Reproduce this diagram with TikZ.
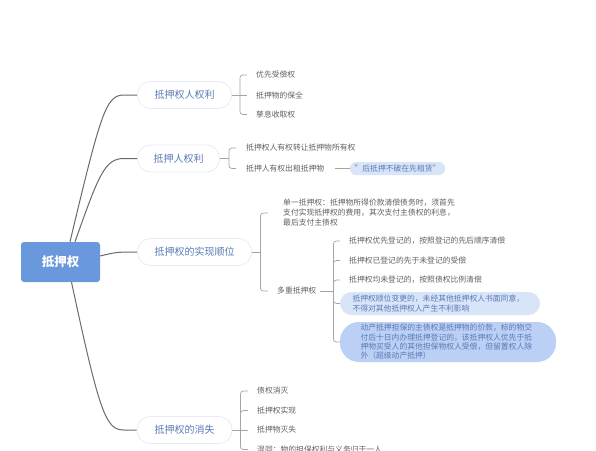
\documentclass[tikz,border=0pt]{standalone}
\usepackage{fontspec}
\setmainfont{Noto Sans CJK SC}
\usetikzlibrary{calc}
\definecolor{rootblue}{HTML}{6A98DC}
\definecolor{branchtxt}{HTML}{5A7AB5}
\definecolor{pillborder}{HTML}{E6ECF5}
\definecolor{leaftxt}{HTML}{606060}
\definecolor{mainline}{HTML}{6A6A6A}
\definecolor{brline}{HTML}{A5A5A5}
\definecolor{hlA}{HTML}{D8E4F8}
\definecolor{hlB}{HTML}{BBD0F4}
\tikzset{
  rootnode/.style={fill=rootblue, rounded corners=3pt, minimum width=79pt, minimum height=40pt,
    text=white, font=\fontsize{12.5}{14}\selectfont\bfseries},
  branchnode/.style={draw=pillborder, line width=0.8pt, fill=white, rounded corners=13pt,
    minimum height=27pt, inner xsep=0pt, text=branchtxt, font=\fontsize{10}{12}\selectfont},
  leafnode/.style={anchor=west, inner sep=0pt, text=leaftxt, font=\fontsize{7.8}{10}\selectfont, align=left},
  hlnode/.style={inner ysep=2pt, text=branchtxt, font=\fontsize{7.8}{9.3}\selectfont, align=left},
  mainc/.style={draw=mainline, line width=1pt},
  brc/.style={draw=brline, line width=0.7pt, rounded corners=3pt},
}
\begin{document}
\begin{tikzpicture}[x=1pt,y=-1pt]
\useasboundingbox (0,0) rectangle (596,450);
\clip (0,0) rectangle (596,450);
\fill[white] (0,0) rectangle (596,450);

% root and branches
\node[rootnode] (root) at (60.5,262) {抵押权};
\node[branchnode, minimum width=94pt] (b1) at (184.5,95) {抵押权人权利};
\node[branchnode, minimum width=82pt] (b2) at (178.5,158.5) {抵押人权利};
\node[branchnode, minimum width=114pt] (b3) at (194.5,252) {抵押权的实现顺位};
\node[branchnode, minimum width=95pt] (b4) at (184.5,430) {抵押权的消失};

\draw[mainc] ([xshift=9.5pt]root.north) .. controls (101,112) and (106,95) .. (124,95) -- (b1.west);
\draw[mainc] ([xshift=14.5pt]root.north) .. controls (99,174) and (105,158.5) .. (124,158.5) -- (b2.west);
\draw[mainc] ([yshift=6pt]root.east) .. controls (116,252) and (118,252) .. (b3.west);
\draw[mainc] ([xshift=11pt]root.south) .. controls (100,415) and (106,430) .. (124,430) -- (b4.west);

% branch 1
\node[leafnode] (l11) at (256,75) {优先受偿权};
\node[leafnode] (l12) at (256,95) {抵押物的保全};
\node[leafnode] (l13) at (256,114.5) {孳息收取权};
\coordinate (k1) at ([xshift=8pt]b1.east);
\draw[brc] (b1.east) -- (k1);
\draw[brc] (k1) |- ([xshift=-9pt]l11.west);
\draw[brc] (k1) -- ([xshift=-9pt]l12.west);
\draw[brc] (k1) |- ([xshift=-9pt]l13.west);

% branch 2
\node[leafnode] (l21) at (246,148) {抵押权人有权转让抵押物所有权};
\node[leafnode] (l22) at (246,168.5) {抵押人有权出租抵押物};
\coordinate (k2) at ([xshift=9pt]b2.east);
\draw[brc] (b2.east) -- (k2);
\draw[brc] (k2) |- ([xshift=-10pt]l21.west);
\draw[brc] (k2) |- ([xshift=-10pt]l22.west);
\node[hlnode, fill=hlA, rounded corners=6pt, minimum width=95pt, minimum height=13pt, inner ysep=1pt, align=center] (hl1) at (397.5,168.5) {"后抵押不破在先租赁"};
\draw[brc] ([xshift=11pt]l22.east) -- (hl1.west);

% branch 3
\node[leafnode] (l31) at (283,213) {单一抵押权：抵押物所得价款清偿债务时，须首先\\支付实现抵押权的费用，其次支付主债权的利息，\\最后支付主债权};
\node[leafnode] (l32) at (277,291) {多重抵押权};
\coordinate (k3) at ([xshift=8.5pt]b3.east);
\draw[brc] (b3.east) -- (k3);
\draw[brc] (k3) |- ([xshift=-15pt]l31.west);
\draw[brc] (k3) |- ([xshift=-9pt]l32.west);

\node[leafnode] (m1) at (349,241) {抵押权优先登记的，按照登记的先后顺序清偿};
\node[leafnode] (m2) at (349,260.5) {抵押权已登记的先于未登记的受偿};
\node[leafnode] (m3) at (349,280) {抵押权均未登记的，按照债权比例清偿};
\node[hlnode, fill=hlA, rounded corners=11.5pt, text width=175pt, inner xsep=12.5pt, minimum height=23pt] (m4) at (440,303.5) {抵押权顺位变更的，未经其他抵押权人书面同意，\\不得对其他抵押权人产生不利影响};
\node[hlnode, fill=hlB, rounded corners=19pt, text width=175pt, inner xsep=20.5pt, minimum height=40pt] (m5) at (448,342) {动产抵押担保的主债权是抵押物的价款，标的物交\\付后十日内办理抵押登记的，该抵押权人优先于抵\\押物买受人的其他担保物权人受偿，但留置权人除\\外（超级动产抵押）};
\coordinate (k4) at ([xshift=17pt]l32.east);
\draw[brc] ([xshift=4pt]l32.east) -- (k4);
\draw[brc] (k4) |- ([xshift=-9pt]m1.west);
\draw[brc] (k4) |- ([xshift=-9pt]m2.west);
\draw[brc] (k4) |- ([xshift=-9pt]m3.west);
\draw[brc] (k4) |- (m4.west);
\draw[brc] (k4) |- (m5.west);

% branch 4
\node[leafnode] (n1) at (257,391) {债权消灭};
\node[leafnode] (n2) at (257,410.5) {抵押权实现};
\node[leafnode] (n3) at (257,430) {抵押物灭失};
\node[leafnode] (n4) at (257,449.5) {混同：物的担保权利与义务归于一人};
\coordinate (k5) at ([xshift=8pt]b4.east);
\draw[brc] (b4.east) -- (k5);
\draw[brc] (k5) |- ([xshift=-9pt]n1.west);
\draw[brc] (k5) |- ([xshift=-9pt]n2.west);
\draw[brc] (k5) -- ([xshift=-9pt]n3.west);
\draw[brc] (k5) |- ([xshift=-9pt]n4.west);
\end{tikzpicture}
\end{document}
